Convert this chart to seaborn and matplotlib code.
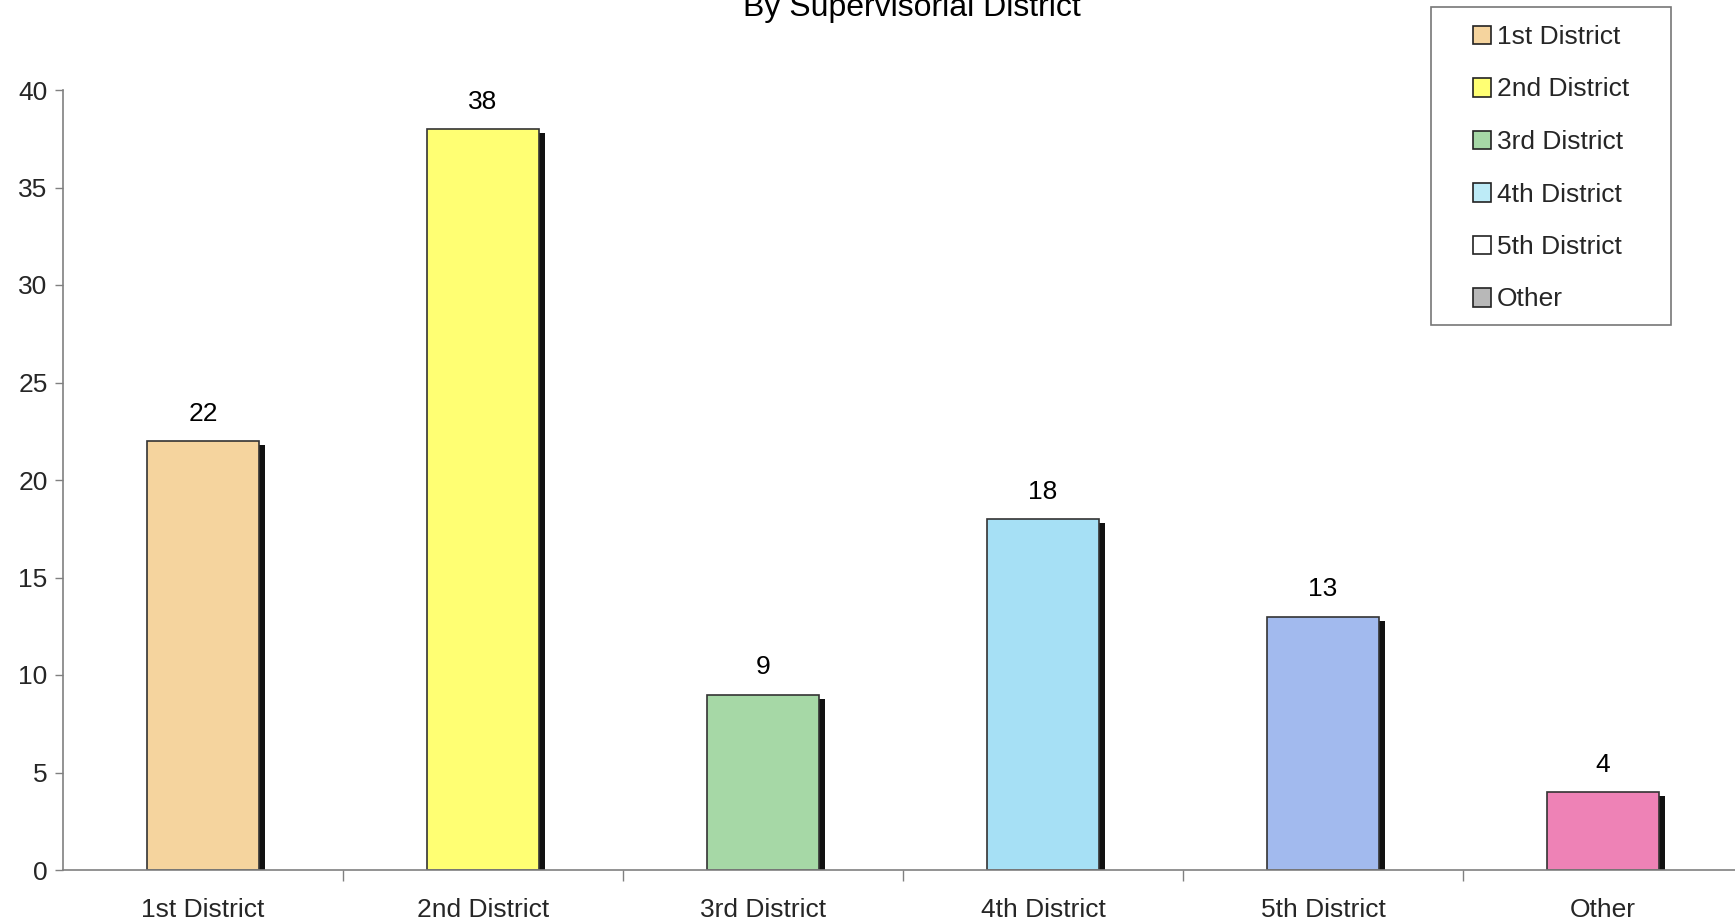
import matplotlib
matplotlib.use('Agg')
import matplotlib.pyplot as plt
import matplotlib.patheffects as pe
from matplotlib.patches import Patch, Rectangle
import seaborn as sns
import pandas as pd

# Data
districts = ['1st District', '2nd District', '3rd District', '4th District', '5th District', 'Other']
counts = [22, 38, 9, 18, 13, 4]
bar_colors = ['#F5D49E', '#FFFF73', '#A6D8A6', '#A6E0F5', '#A2BAEE', '#EE82B6']
legend_colors = ['#F5D49E', '#FFFF73', '#A6D8A6', '#BDEBF7', '#FFFFFF', '#B8B8B8']
y_ticks = [0, 5, 10, 15, 20, 25, 30, 35, 40]

df = pd.DataFrame({'district': districts, 'count': counts})

sns.set_theme(style='white')
plt.rcParams['font.family'] = ['Liberation Sans', 'DejaVu Sans']

W, H = 1735, 924
fig = plt.figure(figsize=(W / 100, H / 100), dpi=100)
ax = fig.add_axes([63 / W, 54 / H, 1680 / W, 780 / H])

sns.barplot(data=df, x='district', y='count', hue='district', palette=bar_colors,
            saturation=1, width=0.4, dodge=False, legend=False, ax=ax,
            edgecolor='#333333', linewidth=1.2)

# Drop shadow on the right side of each bar
for bar in ax.patches:
    bar.set_path_effects([pe.SimplePatchShadow(offset=(4, -3), shadow_rgbFace='#111111', alpha=1.0),
                          pe.Normal()])

# Value labels above bars
for i, v in enumerate(counts):
    ax.annotate(str(v), xy=(i, v), xytext=(0, 11), textcoords='offset points',
                ha='center', va='bottom', fontsize=19, color='black')

ax.set_xlim(-0.5, 5.5)
ax.set_ylim(0, 40)
ax.set_yticks(y_ticks)
ax.set_yticklabels([str(t) for t in y_ticks], fontsize=19)
ax.set_xticks(range(len(districts)))
ax.set_xticklabels(districts, fontsize=19)
ax.set_xlabel('')
ax.set_ylabel('')

# Category ticks sit at band boundaries
ax.set_xticks([i + 0.5 for i in range(len(districts) - 1)], minor=True)
ax.tick_params(axis='x', which='major', length=0, pad=20)
ax.tick_params(axis='x', which='minor', length=8, width=1, color='#808080', direction='out', bottom=True)
ax.tick_params(axis='y', length=6, width=1, color='#808080', direction='out', left=True, pad=5)

for side in ['top', 'right']:
    ax.spines[side].set_visible(False)
for side in ['left', 'bottom']:
    ax.spines[side].set_color('#808080')
    ax.spines[side].set_linewidth(1.2)

# Legend box (frame drawn separately to get the wide Excel-style padding)
fig.patches.append(Rectangle((1431 / W, 1 - 325 / H), 240 / W, 318 / H,
                             transform=fig.transFigure, facecolor='white',
                             edgecolor='#777777', linewidth=1.2, zorder=1))
handles = [Patch(facecolor=c, edgecolor='#222222', linewidth=1.2) for c in legend_colors]
leg = fig.legend(handles, districts, loc='upper left',
                 bbox_to_anchor=(1473 / W, 1 - 25 / H),
                 fontsize=19, frameon=False,
                 handlelength=0.7, handleheight=0.7, handletextpad=0.2,
                 labelspacing=1.08, borderpad=0, borderaxespad=0)
leg.set_zorder(2)

# Title, cut off at the top of the page in the original scan
fig.text(912 / W, 1 - 16 / H, 'By Supervisorial District', ha='center', va='baseline',
         fontsize=23, color='black')

fig.savefig('out.png', dpi=100, facecolor='white')
